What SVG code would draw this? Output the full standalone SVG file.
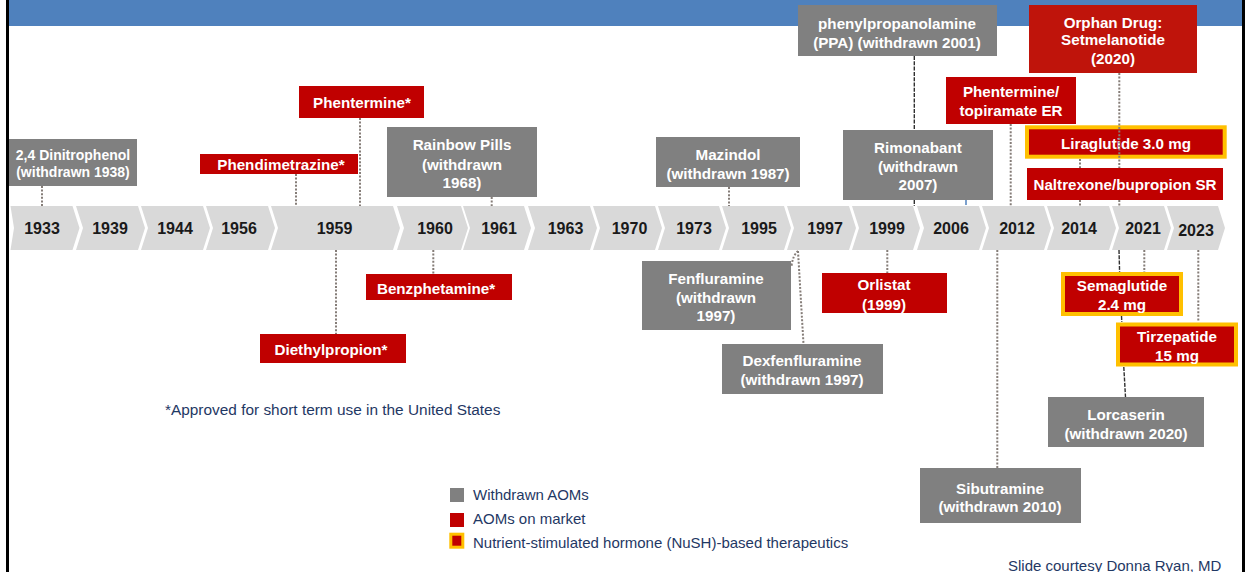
<svg xmlns="http://www.w3.org/2000/svg" width="1247" height="572" viewBox="0 0 1247 572">
  <style>
    .box-w { fill: #808080; }
    .box-r { fill: #C00000; }
    .box-n { fill: #C00000; stroke: #FFC000; stroke-width: 4; }
    .lbl { font-family: "Liberation Sans", Arial, sans-serif; font-weight: bold; font-size: 15.2px; fill: #FFFFFF; text-anchor: middle; }
    .lbl.sm { font-size: 14px; }
    .chev { fill: #D9D9D9; }
    .yr { font-family: "Liberation Sans", Arial, sans-serif; font-weight: bold; font-size: 16px; fill: #1A1A1A; text-anchor: middle; }
    .note { font-family: "Liberation Sans", Arial, sans-serif; font-size: 15px; fill: #1F3864; }
    .dot { fill: none; stroke: #857D78; stroke-width: 2; stroke-dasharray: 2 1.6; }
    .dash { fill: none; stroke: #303030; stroke-width: 1.4; stroke-dasharray: 4 1.3; }
  </style>

  <!-- slide frame -->
  <rect x="0" y="0" width="1247" height="572" fill="#FFFFFF"/>
  <rect x="9" y="0" width="1233" height="26" fill="#4F81BD"/>
  <rect x="6" y="0" width="3" height="572" fill="#000000"/>
  <rect x="1242" y="0" width="3" height="572" fill="#000000"/>

  <!-- timeline chevrons -->
  <g id="timeline">
    <polygon class="chev" points="10.5,206 72.5,206 79.5,228 72.5,250 10.5,250 14,228"/>
    <polygon class="chev" points="76,206 138,206 145,228 138,250 76,250 83,228"/>
    <polygon class="chev" points="141,206 203,206 210,228 203,250 141,250 148,228"/>
    <polygon class="chev" points="206,206 268,206 275,228 268,250 206,250 213,228"/>
    <polygon class="chev" points="271,206 393,206 400,228 393,250 271,250 278,228"/>
    <polygon class="chev" points="397,206 461,206 468,228 461,250 397,250 404,228"/>
    <polygon class="chev" points="463,206 524,206 531,228 524,250 463,250 470,228"/>
    <polygon class="chev" points="528,206 590,206 597,228 590,250 528,250 535,228"/>
    <polygon class="chev" points="593,206 655,206 662,228 655,250 593,250 600,228"/>
    <polygon class="chev" points="658,206 719,206 726,228 719,250 658,250 665,228"/>
    <polygon class="chev" points="722,206 784,206 791,228 784,250 722,250 729,228"/>
    <polygon class="chev" points="787,206 849,206 856,228 849,250 787,250 794,228"/>
    <polygon class="chev" points="852,206 913,206 920,228 913,250 852,250 859,228"/>
    <polygon class="chev" points="917,206 979,206 986,228 979,250 917,250 924,228"/>
    <polygon class="chev" points="982,206 1044,206 1051,228 1044,250 982,250 989,228"/>
    <polygon class="chev" points="1047,206 1109,206 1116,228 1109,250 1047,250 1054,228"/>
    <polygon class="chev" points="1112,206 1164,206 1171,228 1164,250 1112,250 1119,228"/>
    <polygon class="chev" points="1167,206 1218,206 1225,228 1218,250 1167,250 1174,228"/>
    <text class="yr" x="42" y="234">1933</text>
    <text class="yr" x="110" y="234">1939</text>
    <text class="yr" x="175" y="234">1944</text>
    <text class="yr" x="239" y="234">1956</text>
    <text class="yr" x="334.5" y="234">1959</text>
    <text class="yr" x="435" y="234">1960</text>
    <text class="yr" x="499" y="234">1961</text>
    <text class="yr" x="565.5" y="234">1963</text>
    <text class="yr" x="629.5" y="234">1970</text>
    <text class="yr" x="694" y="234">1973</text>
    <text class="yr" x="759" y="234">1995</text>
    <text class="yr" x="825" y="234">1997</text>
    <text class="yr" x="887" y="234">1999</text>
    <text class="yr" x="951" y="234">2006</text>
    <text class="yr" x="1017" y="234">2012</text>
    <text class="yr" x="1079" y="234">2014</text>
    <text class="yr" x="1143" y="234">2021</text>
    <text class="yr" x="1196" y="235.5">2023</text>
  </g>

  <!-- drugs above the timeline -->
  <g id="dinitrophenol">
    <rect class="box-w" x="9" y="139" width="128" height="47"/>
    <text class="lbl sm" x="73" y="160">2,4 Dinitrophenol</text>
    <text class="lbl sm" x="73" y="176.5">(withdrawn 1938)</text>
  </g>
  <g id="phendimetrazine">
    <rect class="box-r" x="200" y="154" width="158" height="20"/>
    <text class="lbl" x="281" y="170">Phendimetrazine*</text>
  </g>
  <g id="phentermine">
    <rect class="box-r" x="299" y="86" width="125" height="32"/>
    <text class="lbl" x="362" y="107.5">Phentermine*</text>
  </g>
  <g id="rainbow-pills">
    <rect class="box-w" x="387" y="127" width="150" height="70"/>
    <text class="lbl" x="462" y="150">Rainbow Pills</text>
    <text class="lbl" x="462" y="170">(withdrawn</text>
    <text class="lbl" x="462" y="188">1968)</text>
  </g>
  <g id="mazindol">
    <rect class="box-w" x="656" y="137" width="144" height="50"/>
    <text class="lbl" x="728" y="160">Mazindol</text>
    <text class="lbl" x="728" y="178.5">(withdrawn 1987)</text>
  </g>
  <g id="ppa">
    <rect class="box-w" x="798" y="5" width="199" height="51"/>
    <text class="lbl" x="897" y="28.5">phenylpropanolamine</text>
    <text class="lbl" x="897" y="47.5">(PPA) (withdrawn 2001)</text>
  </g>
  <g id="rimonabant">
    <rect class="box-w" x="843" y="130" width="150" height="70"/>
    <text class="lbl" x="918" y="152.5">Rimonabant</text>
    <text class="lbl" x="918" y="171.5">(withdrawn</text>
    <text class="lbl" x="918" y="190">2007)</text>
  </g>
  <g id="phentermine-topiramate">
    <rect class="box-r" x="946" y="77" width="130" height="47"/>
    <text class="lbl" x="1011" y="96.5">Phentermine/</text>
    <text class="lbl" x="1011" y="116">topiramate ER</text>
  </g>
  <g id="setmelanotide">
    <rect x="1029" y="5" width="168" height="68" fill="#BF140B"/>
    <text class="lbl" x="1113" y="28">Orphan Drug:</text>
    <text class="lbl" x="1113" y="45">Setmelanotide</text>
    <text class="lbl" x="1113" y="64">(2020)</text>
  </g>
  <g id="liraglutide">
    <rect class="box-n" x="1027" y="127.3" width="197.7" height="29.4"/>
    <text class="lbl" x="1126" y="149">Liraglutide 3.0 mg</text>
  </g>
  <g id="naltrexone-bupropion">
    <rect class="box-r" x="1027" y="168" width="196" height="32"/>
    <text class="lbl" x="1125" y="189.5">Naltrexone/bupropion SR</text>
  </g>

  <!-- drugs below the timeline -->
  <g id="benzphetamine">
    <rect class="box-r" x="366" y="274" width="146" height="26"/>
    <text class="lbl" x="436" y="293.5">Benzphetamine*</text>
  </g>
  <g id="diethylpropion">
    <rect class="box-r" x="260" y="334" width="146" height="29"/>
    <text class="lbl" x="331" y="355">Diethylpropion*</text>
  </g>
  <g id="fenfluramine">
    <rect class="box-w" x="642" y="261" width="149" height="69"/>
    <text class="lbl" x="716" y="284">Fenfluramine</text>
    <text class="lbl" x="716" y="302.5">(withdrawn</text>
    <text class="lbl" x="716" y="321">1997)</text>
  </g>
  <g id="dexfenfluramine">
    <rect class="box-w" x="722" y="344" width="161" height="50"/>
    <text class="lbl" x="802" y="366">Dexfenfluramine</text>
    <text class="lbl" x="802" y="384.5">(withdrawn 1997)</text>
  </g>
  <g id="orlistat">
    <rect class="box-r" x="822" y="273" width="125" height="40"/>
    <text class="lbl" x="884" y="290">Orlistat</text>
    <text class="lbl" x="884" y="309.5">(1999)</text>
  </g>
  <g id="sibutramine">
    <rect class="box-w" x="920" y="468" width="161" height="55"/>
    <text class="lbl" x="1000" y="493.5">Sibutramine</text>
    <text class="lbl" x="1000" y="512">(withdrawn 2010)</text>
  </g>
  <g id="semaglutide">
    <rect class="box-n" x="1063" y="274" width="118" height="40"/>
    <text class="lbl" x="1122" y="291">Semaglutide</text>
    <text class="lbl" x="1122" y="309.5">2.4 mg</text>
  </g>
  <g id="tirzepatide">
    <rect class="box-n" x="1118" y="324.5" width="118" height="40"/>
    <text class="lbl" x="1177" y="342">Tirzepatide</text>
    <text class="lbl" x="1177" y="361">15 mg</text>
  </g>
  <g id="lorcaserin">
    <rect class="box-w" x="1048" y="397" width="156" height="50"/>
    <text class="lbl" x="1126" y="419.5">Lorcaserin</text>
    <text class="lbl" x="1126" y="438.5">(withdrawn 2020)</text>
  </g>

  <!-- leader lines from each drug to its year (gaps where a box sits on top) -->
  <g id="connectors">
    <path class="dot" d="M42 186V206"/>
    <path class="dot" d="M296 174V206"/>
    <path class="dot" d="M360 118V206"/>
    <path class="dot" d="M491.7 197V206"/>
    <path class="dot" d="M729 187V206"/>
    <path class="dash" d="M914.3 56V130M914.3 200V206"/>
    <path d="M966 200V205" stroke="#4F81BD" stroke-width="1.5"/>
    <path class="dot" d="M1010.7 124V206"/>
    <path class="dot" d="M1119.3 73V168M1119.3 200V206"/>
    <path class="dot" d="M1080 159V168M1080 200V206"/>
    <path class="dot" d="M433.3 250V274"/>
    <path class="dot" d="M336 250V334"/>
    <path class="dot" d="M798 251Q793 255 791.5 266"/>
    <path class="dot" d="M798 251L803.5 344"/>
    <path class="dot" d="M887.3 250V273"/>
    <path class="dot" d="M997.3 250V468"/>
    <path class="dash" d="M1119 250L1119.6 272M1121.5 316L1121.8 322M1123.8 367L1125.5 397"/>
    <path class="dot" d="M1144.3 250V272"/>
    <path class="dot" d="M1198.3 250V322"/>
  </g>

  <!-- footnote -->
  <text class="note" x="165" y="415" style="font-size:15.4px">*Approved for short term use in the United States</text>

  <!-- legend -->
  <g id="legend">
    <rect x="450" y="488" width="14" height="14" fill="#808080"/>
    <rect x="450" y="513" width="14" height="14" fill="#C00000"/>
    <rect x="450.8" y="534.2" width="12" height="13" fill="#C00000" stroke="#FFC000" stroke-width="3"/>
    <text class="note" x="473" y="499.5">Withdrawn AOMs</text>
    <text class="note" x="473" y="523.5">AOMs on market</text>
    <text class="note" x="473" y="547.5">Nutrient-stimulated hormone (NuSH)-based therapeutics</text>
  </g>

  <text class="note" x="1008" y="570.5">Slide courtesy Donna Ryan, MD</text>
</svg>
